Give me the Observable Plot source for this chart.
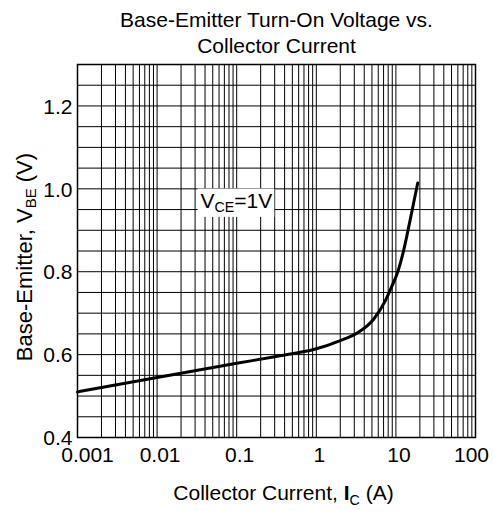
<!DOCTYPE html>
<html>
<head>
<meta charset="utf-8">
<script src="https://cdn.jsdelivr.net/npm/d3@7"></script>
<script src="https://cdn.jsdelivr.net/npm/@observablehq/plot@0.6"></script>
<style>
  html, body { margin: 0; padding: 0; background: white; }
</style>
</head>
<body>
<div id="chart"></div>
<script>
// ---- data ----
const currentA = [0.001, 0.01, 0.1, 0.3, 1, 2, 3.26, 5.28, 7.4, 9, 10.35, 12.5, 15, 18.8];
const vbeV     = [0.510, 0.545, 0.579, 0.595, 0.614, 0.634, 0.652, 0.686, 0.731, 0.767, 0.795, 0.851, 0.922, 1.014];
const xTicks = [0.001, 0.01, 0.1, 1, 10, 100];
const xTickLabels = ["0.001", "0.01", "0.1", "1", "10", "100"];
const yTicks = [0.4, 0.6, 0.8, 1.0, 1.2];
const yTickLabels = ["0.4", "0.6", "0.8", "1.0", "1.2"];
const decades = [0.001, 0.01, 0.1, 1, 10];
const multipliers = [1, 2, 3, 4, 5, 6, 7, 8, 9];
const yGrid = d3.range(9, 26).map(k => k * 0.05);
const titleText = "Base-Emitter Turn-On Voltage vs.\nCollector Current";
const xLabelSegs = [["Collector Current, "], ["I", "b"], ["C", "sub"], [" (A)"]];
const yLabelSegs = [["Base-Emitter, V"], ["BE", "sub"], [" (V)"]];
const annotSegs = [["V"], ["CE", "sub"], ["=1V"]];
const annotPos = {x: 0.0351, y: 0.971};

const xGrid = decades.flatMap(d => multipliers.map(m => d * m)).concat([100]);
const curve = currentA.map((x, i) => ({x, y: vbeV[i]}));
const plain = segs => segs.map(s => s[0]).join("");
const xFmt = d => xTickLabels[xTicks.indexOf(d)];

const font = "'Liberation Sans', Arial, Helvetica, sans-serif";
const xAxisOpts = {tickFormat: xFmt, tickSize: 0, tickPadding: 10, fontSize: 21, label: null, fill: "black"};

const chart = Plot.plot({
  width: 494,
  height: 511,
  marginLeft: 77,
  marginRight: 19,
  marginTop: 64,
  marginBottom: 74,
  style: {fontFamily: font, background: "white", color: "black"},
  x: {type: "log", domain: [0.001, 100]},
  y: {domain: [0.4, 1.3]},
  marks: [
    Plot.ruleX(xGrid, {stroke: "black", strokeWidth: 1}),
    Plot.ruleY(yGrid, {stroke: "black", strokeWidth: 1}),
    Plot.axisX({...xAxisOpts, ticks: xTicks.slice(1, 5), dx: 3}),
    Plot.axisX({...xAxisOpts, ticks: xTicks.slice(0, 1), dx: 10}),
    Plot.axisX({...xAxisOpts, ticks: xTicks.slice(5), dx: -4}),
    Plot.axisY({ticks: yTicks, tickFormat: d => yTickLabels[yTicks.indexOf(d)], tickSize: 0, tickPadding: 5, fontSize: 21, dy: 1, label: null, fill: "black"}),
    Plot.text([annotPos], {x: "x", y: "y", text: () => plain(annotSegs), textAnchor: "start", fontSize: 21, fill: "black"}),
    Plot.line(curve, {x: "x", y: "y", stroke: "black", strokeWidth: 3, curve: "monotone-x"}),
    Plot.frame({stroke: "black", strokeWidth: 1.5}),
    Plot.text([titleText], {frameAnchor: "top", textAnchor: "middle", lineAnchor: "middle", dy: -32.5, fontSize: 21, lineHeight: 1.2, fill: "black"}),
    Plot.text([plain(xLabelSegs)], {frameAnchor: "bottom", textAnchor: "middle", lineAnchor: "middle", dy: 56, dx: 7, fontSize: 21, fill: "black"}),
    Plot.text([plain(yLabelSegs)], {frameAnchor: "left", textAnchor: "middle", lineAnchor: "middle", rotate: -90, dx: -53, dy: 6, fontSize: 22, fill: "black"})
  ]
});

document.getElementById("chart").appendChild(chart);

function richify(svg, segs) {
  const key = plain(segs);
  const texts = Array.from(svg.querySelectorAll("text")).filter(t => t.textContent === key);
  for (const t of texts) {
    t.textContent = "";
    let shifted = false;
    for (const [str, kind] of segs) {
      const ts = document.createElementNS("http://www.w3.org/2000/svg", "tspan");
      ts.textContent = str;
      if (kind === "sub") {
        ts.setAttribute("font-size", "0.68em");
        ts.setAttribute("dy", "0.3em");
        shifted = true;
      } else {
        if (shifted) { ts.setAttribute("dy", "-0.204em"); shifted = false; }
        if (kind === "b") ts.setAttribute("font-weight", "bold");
      }
      t.appendChild(ts);
    }
  }
  return texts;
}

richify(chart, xLabelSegs);
richify(chart, yLabelSegs);
const annTexts = richify(chart, annotSegs);
for (const t of annTexts) {
  const bb = t.getBBox();
  const r = document.createElementNS("http://www.w3.org/2000/svg", "rect");
  r.setAttribute("x", bb.x - 3);
  r.setAttribute("y", bb.y);
  r.setAttribute("width", bb.width + 5);
  r.setAttribute("height", bb.height + 2);
  r.setAttribute("fill", "white");
  r.setAttribute("stroke", "none");
  if (t.getAttribute("transform")) r.setAttribute("transform", t.getAttribute("transform"));
  if (t.getAttribute("x")) r.setAttribute("transform", `translate(${t.getAttribute("x")||0},${t.getAttribute("y")||0})`);
  t.parentNode.insertBefore(r, t);
}
</script>
</body>
</html>
